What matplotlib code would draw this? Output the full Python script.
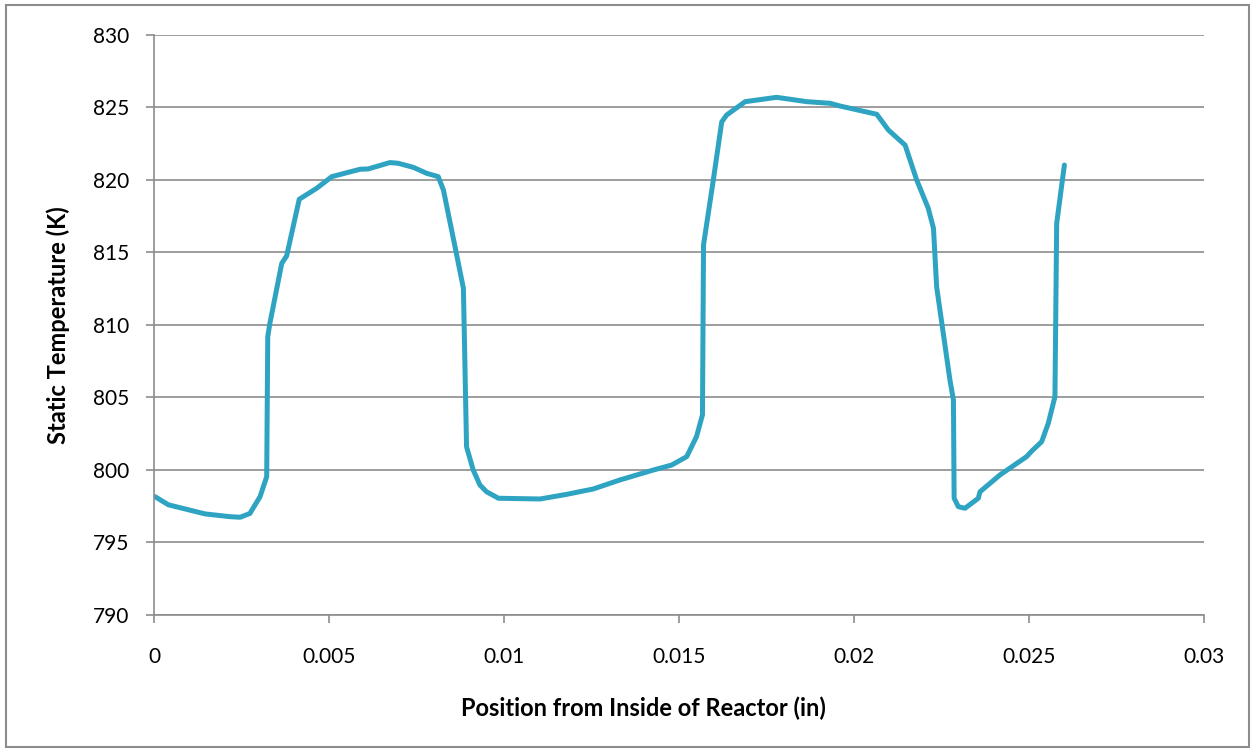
import matplotlib.pyplot as plt
from matplotlib.patches import Rectangle

position = [0.00003, 0.00041, 0.00146, 0.00217, 0.00246, 0.00274, 0.00303, 0.00322,
            0.00325, 0.00331, 0.00365, 0.00379, 0.00415, 0.00465, 0.00508, 0.00589,
            0.00612, 0.00674, 0.00698, 0.00741, 0.00779, 0.00812, 0.00827, 0.0086,
            0.00884, 0.00893, 0.00912, 0.00931, 0.0095, 0.00984, 0.01103, 0.01179,
            0.01255, 0.01331, 0.01427, 0.01479, 0.01522, 0.0155, 0.01567, 0.0157,
            0.01598, 0.01622, 0.01636, 0.01689, 0.01779, 0.01865, 0.01931, 0.0196,
            0.02065, 0.02098, 0.02146, 0.02179, 0.02212, 0.02227, 0.02236, 0.02274,
            0.02284, 0.02286, 0.02298, 0.02317, 0.02355, 0.0236, 0.02417, 0.02493,
            0.02508, 0.02536, 0.02555, 0.02574, 0.02579, 0.02601]
temperature = [798.16, 797.6, 796.97, 796.78, 796.74, 797.0, 798.16, 799.54,
               809.2, 810.1, 814.25, 814.76, 818.67, 819.43, 820.23, 820.74,
               820.76, 821.2, 821.15, 820.87, 820.46, 820.23, 819.3, 815.4,
               812.53, 801.6, 800.0, 798.97, 798.5, 798.05, 798.0, 798.32,
               798.69, 799.31, 800.0, 800.34, 800.92, 802.3, 803.8, 815.52,
               820.0, 824.0, 824.48, 825.4, 825.7, 825.4, 825.29, 825.1,
               824.53, 823.45, 822.4, 820.0, 818.05, 816.67, 812.64, 806.2,
               804.83, 798.05, 797.47, 797.36, 798.05, 798.5, 799.66, 800.92,
               801.31, 801.95, 803.22, 805.05, 817.01, 821.03]

xticks = [0, 0.005, 0.01, 0.015, 0.02, 0.025, 0.03]
xtick_labels = ['0', '0.005', '0.01', '0.015', '0.02', '0.025', '0.03']
yticks = [790, 795, 800, 805, 810, 815, 820, 825, 830]

plt.rcParams['font.family'] = ['Lato', 'DejaVu Sans']

fig = plt.figure(figsize=(12.55, 7.52), dpi=100)
ax = fig.add_axes([0.1227, 0.1822, 0.8367, 0.7713])

grid_col = '#8c8c8c'
ax.plot(position, temperature, color='#2fa4c2', lw=3.6, solid_joinstyle='round',
        solid_capstyle='round')

ax.set_xlim(0, 0.03)
ax.set_ylim(790, 830)
ax.set_xticks(xticks)
ax.set_xticklabels(xtick_labels)
ax.set_yticks(yticks)
ax.yaxis.grid(True, color=grid_col, lw=1.2)
ax.set_axisbelow(True)

for s in ['top', 'right']:
    ax.spines[s].set_visible(False)
for s in ['left', 'bottom']:
    ax.spines[s].set_color(grid_col)
    ax.spines[s].set_linewidth(1.2)
ax.tick_params(axis='both', colors=grid_col, length=6, width=1.2, labelsize=15,
               labelcolor='black')
ax.tick_params(axis='x', pad=17)
ax.tick_params(axis='y', pad=12)

ax.set_xlabel('Position from Inside of Reactor (in)', fontsize=17, fontweight='bold')
ax.set_ylabel('Static Temperature (K)', fontsize=17, fontweight='bold')
ax.xaxis.set_label_coords(0.466, -0.14)
ax.yaxis.set_label_coords(-0.080, 0.5)

fig.patches.append(Rectangle((0.005, 0.006), 0.99, 0.988, transform=fig.transFigure,
                             fill=False, edgecolor='#8c8c8c', lw=1.5))

fig.savefig('out.png', dpi=100)
